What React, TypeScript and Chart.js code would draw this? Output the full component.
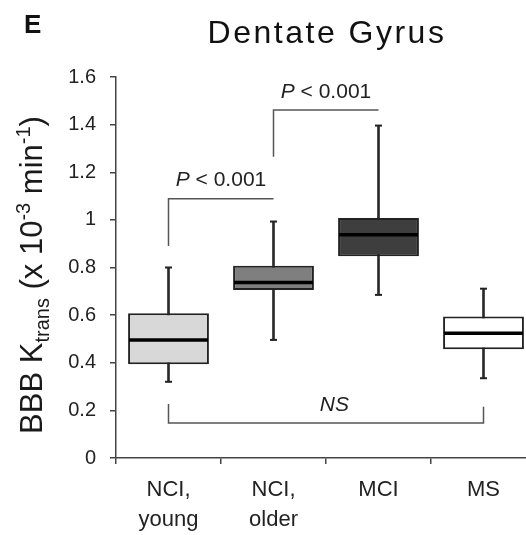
import React, { useEffect, useRef } from 'react';
import { Chart, registerables } from 'chart.js';

Chart.register(...registerables);

const FONT = '"Liberation Sans", Arial, Helvetica, sans-serif';

// ---- data ----
const categories: (string | string[])[] = [['NCI,', 'young'], ['NCI,', 'older'], 'MCI', 'MS'];
const whiskerLow = [0.32, 0.496, 0.685, 0.335];
const quartile1 = [0.394, 0.706, 0.847, 0.457];
const medians = [0.496, 0.737, 0.938, 0.524];
const quartile3 = [0.608, 0.807, 1.008, 0.594];
const whiskerHigh = [0.8, 0.993, 1.396, 0.711];
const boxColors = ['#d8d8d8', '#7f7f7f', '#3e3e3e', '#ffffff'];

const yTickValues = [0, 0.2, 0.4, 0.6, 0.8, 1, 1.2, 1.4, 1.6];
const yTickLabels = ['0', '0.2', '0.4', '0.6', '0.8', '1', '1.2', '1.4', '1.6'];

// significance brackets (category indices and y values)
const bracketFrom = [0, 1, 0];
const bracketTo = [1, 2, 3];
const bracketBarY = [1.089, 1.461, 0.147];
const bracketLeftLegY = [0.89, 1.265, 0.227];
const bracketRightLegY: (number | null)[] = [null, null, 0.215];
const bracketItalic = ['P', 'P', 'NS'];
const bracketRest = [' < 0.001', ' < 0.001', ''];
const bracketLabelX = [0.5, 1.5, 1.58];
const bracketLabelY = [1.168, 1.537, 0.222];

const chartTitle = 'Dentate Gyrus';
const panelLetter = 'E';

const annotations = {
  id: 'annotations',
  afterDatasetsDraw(chart: any) {
    const { ctx, scales } = chart;
    const x = scales.x;
    const y = scales.y;
    ctx.save();
    ctx.strokeStyle = '#555';
    ctx.lineWidth = 1.5;
    for (let i = 0; i < bracketFrom.length; i++) {
      const x0 = x.getPixelForValue(bracketFrom[i]);
      const x1 = x.getPixelForValue(bracketTo[i]);
      const yb = y.getPixelForValue(bracketBarY[i]);
      ctx.beginPath();
      ctx.moveTo(x0, y.getPixelForValue(bracketLeftLegY[i]));
      ctx.lineTo(x0, yb);
      ctx.lineTo(x1, yb);
      const r = bracketRightLegY[i];
      if (r !== null) ctx.lineTo(x1, y.getPixelForValue(r));
      ctx.stroke();
    }
    ctx.fillStyle = '#222';
    ctx.textBaseline = 'middle';
    ctx.textAlign = 'left';
    for (let i = 0; i < bracketItalic.length; i++) {
      const itFont = `italic 21px ${FONT}`;
      const nFont = `21px ${FONT}`;
      ctx.font = itFont;
      const w1 = ctx.measureText(bracketItalic[i]).width;
      ctx.font = nFont;
      const w2 = ctx.measureText(bracketRest[i]).width;
      const total = w1 + w2;
      const cx = x.left + (bracketLabelX[i] + 0.5) * ((x.right - x.left) / categories.length);
      const cy = y.getPixelForValue(bracketLabelY[i]);
      const sx = cx - total / 2;
      ctx.font = itFont;
      ctx.fillText(bracketItalic[i], sx, cy);
      ctx.font = nFont;
      ctx.fillText(bracketRest[i], sx + w1, cy);
    }
    ctx.restore();
  },
  afterDraw(chart: any) {
    const { ctx } = chart;
    ctx.save();
    ctx.fillStyle = '#111';
    ctx.textBaseline = 'alphabetic';
    // panel letter
    ctx.font = `bold 26px ${FONT}`;
    ctx.textAlign = 'left';
    ctx.fillText(panelLetter, 24, 33);
    // title
    ctx.font = `32px ${FONT}`;
    ctx.textAlign = 'center';
    (ctx as any).letterSpacing = '2.5px';
    ctx.fillText(chartTitle, 327, 43);
    (ctx as any).letterSpacing = '0px';

    // y-axis title with sub/superscripts
    const big = 31;
    const small = 20;
    const segs = [
      { t: 'BBB K', s: big, dy: 0 },
      { t: 'trans', s: small, dy: 7 },
      { t: ' (x 10', s: big, dy: 0 },
      { t: '-3', s: small, dy: -12 },
      { t: ' min', s: big, dy: 0 },
      { t: '-1', s: small, dy: -12 },
      { t: ')', s: big, dy: 0 },
    ];
    let total = 0;
    const widths = segs.map((sg) => {
      ctx.font = `${sg.s}px ${FONT}`;
      const w = ctx.measureText(sg.t).width;
      total += w;
      return w;
    });
    ctx.translate(42, 275);
    ctx.rotate(-Math.PI / 2);
    ctx.textAlign = 'left';
    ctx.fillStyle = '#1a1a1a';
    let pos = -total / 2;
    segs.forEach((sg, i) => {
      ctx.font = `${sg.s}px ${FONT}`;
      ctx.fillText(sg.t, pos, sg.dy);
      pos += widths[i];
    });
    ctx.restore();
  },
};

export default function App() {
  const ref = useRef<HTMLCanvasElement>(null);
  useEffect(() => {
    if (!ref.current) return;
    const chart = new Chart(ref.current, {
      type: 'bar',
      data: {
        labels: categories as any,
        datasets: [
          {
            type: 'bar',
            label: 'whisker',
            data: whiskerLow.map((lo, i) => [lo, whiskerHigh[i]]) as any,
            backgroundColor: '#2a2a2a',
            barThickness: 2,
            grouped: false,
            order: 3,
          },
          {
            type: 'bar',
            label: 'box',
            data: quartile1.map((a, i) => [a, quartile3[i]]) as any,
            backgroundColor: boxColors,
            borderColor: '#222',
            borderWidth: 2,
            borderSkipped: false,
            barPercentage: 0.77,
            categoryPercentage: 1,
            grouped: false,
            order: 2,
          },
          {
            type: 'line',
            label: 'median',
            data: medians,
            showLine: false,
            pointStyle: 'line',
            pointRadius: 39.5,
            pointBorderWidth: 3.5,
            pointBorderColor: '#000',
            order: 1,
          } as any,
          {
            type: 'line',
            label: 'capHigh',
            data: whiskerHigh,
            showLine: false,
            pointStyle: 'line',
            pointRadius: 3.5,
            pointBorderWidth: 2,
            pointBorderColor: '#222',
            order: 1,
          } as any,
          {
            type: 'line',
            label: 'capLow',
            data: whiskerLow,
            showLine: false,
            pointStyle: 'line',
            pointRadius: 3.5,
            pointBorderWidth: 2,
            pointBorderColor: '#222',
            order: 1,
          } as any,
        ],
      },
      options: {
        responsive: false,
        animation: false,
        devicePixelRatio: 1,
        events: [],
        layout: { autoPadding: false, padding: { top: 77, right: 4, left: 0, bottom: 0 } },
        plugins: {
          legend: { display: false },
          tooltip: { enabled: false },
          title: { display: false },
        },
        scales: {
          x: {
            offset: true,
            grid: {
              offset: true,
              drawOnChartArea: false,
              drawTicks: true,
              tickLength: 6,
              color: '#444',
              lineWidth: 1.5,
            },
            border: { color: '#444', width: 1.5 },
            ticks: {
              color: '#222',
              font: { family: FONT, size: 22, lineHeight: 1.36 },
              padding: 11,
              maxRotation: 0,
            },
            afterFit: (s: any) => {
              s.height = 77;
            },
          },
          y: {
            min: 0,
            max: 1.6,
            grid: {
              drawOnChartArea: false,
              drawTicks: true,
              tickLength: 6,
              color: '#444',
              lineWidth: 1.5,
            },
            border: { color: '#444', width: 1.5 },
            ticks: {
              color: '#222',
              font: { family: FONT, size: 20 },
              padding: 14,
              callback: (v: any) => {
                const idx = yTickValues.findIndex((t) => Math.abs(t - v) < 1e-9);
                return idx >= 0 ? yTickLabels[idx] : '';
              },
            },
            afterBuildTicks: (s: any) => {
              s.ticks = yTickValues.map((v) => ({ value: v }));
            },
            afterFit: (s: any) => {
              s.width = 116;
            },
          },
        },
      },
      plugins: [annotations],
    });
    return () => chart.destroy();
  }, []);
  return (
    <div style={{ position: 'fixed', left: 0, top: 0, width: 526, height: 535, overflow: 'hidden', background: '#fff' }}>
      <canvas ref={ref} width={540} height={535} style={{ width: 540, height: 535, display: 'block' }} />
    </div>
  );
}
